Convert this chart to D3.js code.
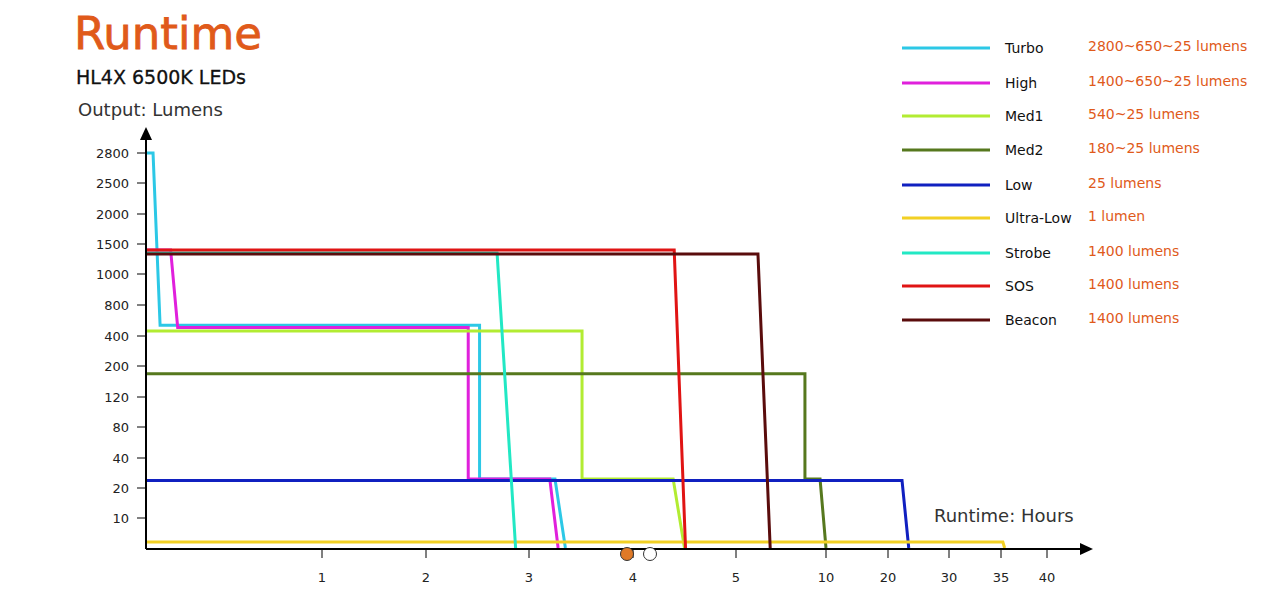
<!DOCTYPE html>
<html><head><meta charset="utf-8">
<script src="https://cdn.jsdelivr.net/npm/d3@7"></script>
<style>body{margin:0;background:#fff}text{font-family:"DejaVu Sans",sans-serif}</style>
</head><body><svg id="svg1" width="1284" height="600"></svg>
<script>
// piecewise axes, ticks evenly spaced like the original
var yTicks=[10,20,40,80,120,200,400,800,1000,1500,2000,2500,2800]
var xTicks=[1,2,3,4,5,10,20,30,35,40]

var names=["Turbo","High","Med1","Med2","Low","Ultra-Low","Strobe","SOS","Beacon"]
var specs=["2800~650~25 lumens","1400~650~25 lumens","540~25 lumens","180~25 lumens","25 lumens","1 lumen","1400 lumens","1400 lumens","1400 lumens"]
var colors=["#2cc8e6","#e020dc","#b2ec32","#56781e","#1020c0","#f2d024","#22e8c4","#e01414","#5a0c0c"]

// [hours, lumens] per mode
var turbo=[[0,2800],[0.04,2800],[0.08,540],[2.52,540],[2.52,26],[3.25,26],[3.35,0]]
var high=[[0,1400],[0.14,1400],[0.18,510],[2.41,510],[2.41,26],[3.2,26],[3.28,0]]
var med1=[[0,464],[3.51,464],[3.51,26],[4.39,26],[4.5,0]]
var med2=[[0,180],[8.83,180],[8.83,26],[9.67,26],[10,0]]
var low=[[0,25],[22.3,25],[23.4,0]]
var ultraLow=[[0,2],[35.2,2],[35.4,0]]
var strobe=[[0,1350],[2.69,1350],[2.87,0]]
var sos=[[0,1400],[4.4,1400],[4.51,0]]
var beacon=[[0,1333],[6.22,1333],[6.9,0]]
var series=[turbo,high,med1,med2,low,ultraLow,strobe,sos,beacon]

var svg=d3.select("#svg1")
var y=d3.scaleLinear().domain([0].concat(yTicks)).range([548,518,488,458,427,397,366,336,305,274,244,214,183,153])
var x=d3.scaleLinear().domain([0].concat(xTicks)).range([146,322,426,529,633,736,826,888,949,1001,1047])

svg.append("text").attr("x",74).attr("y",49).attr("fill","#e05a1a").attr("font-size",45).attr("stroke","#e05a1a").attr("stroke-width",0.8).text("Runtime")
svg.append("text").attr("x",76).attr("y",84).attr("font-size",19).attr("fill","#111").attr("stroke","#111").attr("stroke-width",0.3).text("HL4X 6500K LEDs")
svg.append("text").attr("x",78).attr("y",116).attr("font-size",18).attr("fill","#333").text("Output: Lumens")
svg.append("text").attr("x",934).attr("y",522).attr("font-size",18).attr("fill","#333").text("Runtime: Hours")

var line=d3.line().x(function(d){return x(d[0])}).y(function(d){return y(d[1])})
svg.selectAll("path.s").data(series).enter().append("path").attr("class","s")
    .attr("d",line).attr("fill","none").attr("stroke-width",3)
    .attr("stroke",function(d,i){return colors[i]})

// axes
svg.append("line").attr("x1",146).attr("x2",1082).attr("y1",549).attr("y2",549).attr("stroke","#000").attr("stroke-width",2)
svg.append("line").attr("x1",146).attr("x2",146).attr("y1",549).attr("y2",136).attr("stroke","#000").attr("stroke-width",2)
svg.append("path").attr("d","M146,127 L140,140 L152,140 Z").attr("fill","#000")
svg.append("path").attr("d","M1093,549 L1080,543 L1080,555 Z").attr("fill","#000")

svg.selectAll("g.yt").data(yTicks).enter().append("g").attr("class","yt").each(function(d){
    var g=d3.select(this)
    g.append("line").attr("x1",137).attr("x2",146).attr("y1",y(d)).attr("y2",y(d)).attr("stroke","#000")
    g.append("text").attr("x",129).attr("y",y(d)+5).attr("text-anchor","end").attr("font-size",13).attr("fill","#222").text(d)
})
svg.selectAll("g.xt").data(xTicks).enter().append("g").attr("class","xt").each(function(d){
    var g=d3.select(this)
    g.append("line").attr("x1",x(d)).attr("x2",x(d)).attr("y1",550).attr("y2",558).attr("stroke","#000")
    g.append("text").attr("x",x(d)).attr("y",582).attr("text-anchor","middle").attr("font-size",13).attr("fill","#222").text(d)
})
svg.append("circle").attr("cx",627).attr("cy",554).attr("r",6.5).attr("fill","#e07a28").attr("stroke","#333")
svg.append("circle").attr("cx",650).attr("cy",554).attr("r",6.5).attr("fill","#fff").attr("stroke","#333")

// legend
var leg=svg.selectAll("g.leg").data(names).enter().append("g").attr("class","leg")
    .attr("transform",function(d,i){return "translate(0,"+[48,83,116,150,185,218,253,286,320][i]+")"})
leg.append("line").attr("x1",902).attr("x2",990).attr("stroke-width",3).attr("stroke",function(d,i){return colors[i]})
leg.append("text").attr("x",1005).attr("y",5).attr("font-size",14).attr("fill","#111").text(function(d){return d})
leg.append("text").attr("x",1088).attr("y",3).attr("font-size",14).attr("fill","#e05a1a").text(function(d,i){return specs[i]})
</script></body></html>
